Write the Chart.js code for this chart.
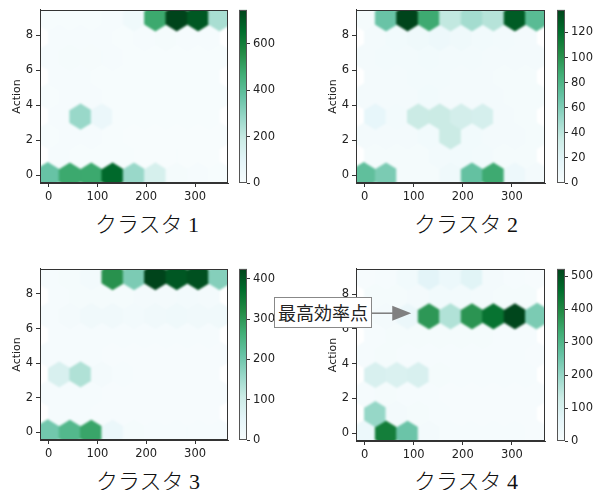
<!DOCTYPE html>
<html>
<head>
<meta charset="utf-8">
<script src="https://cdn.jsdelivr.net/npm/chart.js@4.4.0/dist/chart.umd.min.js"></script>
<style>
  body { margin: 0; background: #fff; }
  #fig { position: relative; width: 601px; height: 490px; overflow: hidden; }
  canvas { position: absolute; }
  .caption {
    position: absolute; width: 200px; text-align: center; line-height: 1;
    font-family: "Liberation Serif", "Noto Sans CJK JP", serif; font-size: 22px; font-weight: 300; color: #111;
  }
  #note {
    position: absolute; left: 274px; top: 297px; width: 96px; height: 29px;
    border: 1px solid #888; background: #fff; z-index: 5;
    font-family: "Noto Sans CJK JP", sans-serif; font-size: 18px; line-height: 29px;
    text-align: center; color: #222;
  }
</style>
</head>
<body>
<div id="fig">
  <canvas id="hex1" width="236" height="200" style="left:0;top:0"></canvas>
  <canvas id="cb1" width="45" height="200" style="left:239px;top:0"></canvas>
  <canvas id="hex2" width="237" height="200" style="left:316px;top:0"></canvas>
  <canvas id="cb2" width="44" height="200" style="left:557px;top:0"></canvas>
  <canvas id="hex3" width="236" height="198" style="left:0;top:259px"></canvas>
  <canvas id="cb3" width="45" height="198" style="left:239px;top:259px"></canvas>
  <canvas id="hex4" width="237" height="199" style="left:316px;top:259px"></canvas>
  <canvas id="cb4" width="44" height="199" style="left:557px;top:259px"></canvas>
  <div class="caption" id="cap1" style="left:47px;top:214px"></div>
  <div class="caption" id="cap2" style="left:366px;top:214px"></div>
  <div class="caption" id="cap3" style="left:48px;top:471px"></div>
  <div class="caption" id="cap4" style="left:366px;top:471px"></div>
  <div id="note"></div>
</div>
<script>
  // hexbin grid (angle 0..350 on x, action 0..9 on y, gridsize 8)
  const xMin = 0, xMax = 350;
  const yMin = 0, yMax = 9;
  const gridSize = 8;

  const xTicks = [0, 100, 200, 300];
  const yTicks = [0, 2, 4, 6, 8];

  // counts per hex row, bottom row first; even rows have 9 cells, odd rows 8
  const cluster1 = [
    [370, 480, 480, 660, 280, 150, 15, 8, 5],
    [10, 5, 5, 3, 2, 2, 2, 2],
    [5, 10, 8, 3, 2, 2, 2, 2, 2],
    [10, 280, 60, 5, 3, 3, 3, 3],
    [5, 10, 8, 4, 3, 3, 3, 3, 3],
    [8, 8, 5, 5, 4, 4, 4, 4],
    [10, 15, 12, 8, 6, 6, 6, 6, 6],
    [8, 10, 8, 6, 10, 15, 10, 8],
    [5, 5, 5, 8, 40, 480, 745, 700, 250]
  ];
  const cluster2 = [
    [72, 62, 3, 3, 8, 70, 88, 10, 4],
    [3, 3, 3, 5, 6, 5, 3, 3],
    [4, 4, 4, 6, 35, 6, 4, 4, 3],
    [15, 5, 35, 35, 30, 28, 4, 3],
    [4, 4, 4, 6, 4, 4, 4, 3, 3],
    [4, 4, 5, 5, 4, 4, 3, 3],
    [4, 5, 5, 6, 5, 5, 4, 4, 4],
    [4, 6, 8, 10, 8, 6, 5, 4],
    [3, 68, 138, 88, 38, 48, 42, 128, 75]
  ];
  const cluster3 = [
    [200, 240, 280, 35, 10, 6, 6, 6, 5],
    [6, 5, 4, 4, 4, 4, 4, 4],
    [5, 6, 5, 4, 4, 4, 4, 4, 4],
    [80, 135, 12, 5, 4, 4, 4, 4],
    [6, 6, 5, 4, 4, 4, 4, 4, 4],
    [6, 6, 5, 5, 5, 5, 5, 5],
    [6, 12, 20, 20, 15, 20, 25, 20, 20],
    [5, 8, 8, 10, 12, 12, 15, 12],
    [6, 8, 15, 310, 190, 425, 400, 410, 180]
  ];
  const cluster4 = [
    [40, 420, 255, 15, 8, 6, 6, 6, 5],
    [200, 15, 10, 6, 5, 5, 5, 5],
    [8, 12, 8, 6, 5, 5, 5, 5, 5],
    [100, 95, 100, 10, 6, 6, 6, 6],
    [8, 10, 8, 6, 6, 6, 6, 6, 5],
    [8, 10, 10, 12, 10, 10, 8, 8],
    [10, 15, 45, 370, 165, 375, 445, 520, 235],
    [10, 12, 15, 20, 18, 15, 12, 10],
    [5, 8, 20, 70, 40, 75, 15, 8, 5]
  ];

  const colorMax = [745, 138, 425, 523];
  const colorTicks1 = [0, 200, 400, 600];
  const colorTicks2 = [0, 20, 40, 60, 80, 100, 120];
  const colorTicks3 = [0, 100, 200, 300, 400];
  const colorTicks4 = [0, 100, 200, 300, 400, 500];

  const captions = ['クラスタ 1', 'クラスタ 2', 'クラスタ 3', 'クラスタ 4'];
  const noteText = '最高効率点';
  const noteTarget = [95, 6.9];

  // BuGn colormap
  const bugn = ['#f7fcfd', '#e5f5f9', '#ccece6', '#99d8c9', '#66c2a4', '#41ae76', '#238b45', '#006d2c', '#00441b'];

  const sx = (xMax - xMin) / gridSize;
  const sy = (yMax - yMin) / Math.floor(gridSize / Math.sqrt(3));
  const hexCorners = [[0.5, -1 / 6], [0.5, 1 / 6], [0, 1 / 3], [-0.5, 1 / 6], [-0.5, -1 / 6], [0, -1 / 3]];

  const tickFont = { family: 'DejaVu Sans', size: 11.5 };
  const axisColor = '#333';
  const labelColor = '#222';

  function hexToRgb(h) {
    return [parseInt(h.slice(1, 3), 16), parseInt(h.slice(3, 5), 16), parseInt(h.slice(5, 7), 16)];
  }

  function bugnColor(f) {
    f = Math.max(0, Math.min(1, f));
    let pos = f * (bugn.length - 1);
    let i = Math.min(bugn.length - 2, Math.floor(pos));
    let t = pos - i;
    let a = hexToRgb(bugn[i]), b = hexToRgb(bugn[i + 1]);
    let c = a.map((v, k) => Math.round(v + (b[k] - v) * t));
    return 'rgb(' + c[0] + ', ' + c[1] + ', ' + c[2] + ')';
  }

  const hexPlugin = {
    id: 'hexcells',
    beforeDatasetsDraw(chart) {
      const { ctx, chartArea: a, scales: { x, y } } = chart;
      const ds = chart.data.datasets[0];
      // draw crisp cells offscreen, then paste them slightly softened
      let off = document.createElement('canvas');
      off.width = chart.width;
      off.height = chart.height;
      let oc = off.getContext('2d');
      oc.fillStyle = '#fff';
      oc.fillRect(0, 0, off.width, off.height);
      ds.data.forEach(p => {
        oc.beginPath();
        hexCorners.forEach(([dx, dy], k) => {
          let px = x.getPixelForValue(p.x + dx * sx);
          let py = y.getPixelForValue(p.y + dy * sy);
          if (k) oc.lineTo(px, py); else oc.moveTo(px, py);
        });
        oc.closePath();
        let c = bugnColor(p.v / ds.vmax);
        oc.fillStyle = c;
        oc.strokeStyle = c;
        oc.lineWidth = 1;
        oc.fill();
        oc.stroke();
      });
      ctx.save();
      ctx.beginPath();
      ctx.rect(a.left, a.top, a.right - a.left, a.bottom - a.top);
      ctx.clip();
      ctx.filter = 'blur(0.9px)';
      ctx.drawImage(off, 0, 0);
      ctx.restore();
    },
    afterDraw(chart) {
      const { ctx, chartArea: a } = chart;
      ctx.save();
      ctx.strokeStyle = axisColor;
      ctx.lineWidth = 1;
      ctx.strokeRect(Math.round(a.left) + 0.5, Math.round(a.top) + 0.5,
        Math.round(a.right - a.left) - 1, Math.round(a.bottom - a.top) - 1);
      ctx.restore();
    }
  };

  const arrowPlugin = {
    id: 'arrow',
    afterDraw(chart) {
      const { ctx, scales: { x, y } } = chart;
      const note = document.getElementById('note');
      const cv = chart.canvas;
      let x0 = note.offsetLeft + note.offsetWidth - cv.offsetLeft;
      let tx = x.getPixelForValue(noteTarget[0]);
      let ty = y.getPixelForValue(noteTarget[1]);
      ctx.save();
      ctx.strokeStyle = '#808080';
      ctx.fillStyle = '#808080';
      ctx.lineWidth = 1.6;
      ctx.beginPath();
      ctx.moveTo(x0, ty);
      ctx.lineTo(tx - 18, ty);
      ctx.stroke();
      ctx.beginPath();
      ctx.moveTo(tx, ty);
      ctx.lineTo(tx - 19, ty - 7.5);
      ctx.lineTo(tx - 19, ty + 7.5);
      ctx.closePath();
      ctx.fill();
      ctx.restore();
    }
  };

  function fixedTicks(values) {
    return scale => { scale.ticks = values.map(v => ({ value: v })); };
  }

  function axisOptions(extra) {
    return Object.assign({
      type: 'linear',
      grid: { display: true, drawOnChartArea: false, tickLength: 4, color: axisColor, lineWidth: 1 },
      border: { display: true, color: axisColor },
      ticks: { font: tickFont, color: labelColor, padding: 3, autoSkip: false, maxRotation: 0 }
    }, extra);
  }

  function hexPanel(id, counts, vmax, extraPlugins) {
    let points = [];
    counts.forEach((row, r) => {
      row.forEach((v, i) => {
        points.push({ x: xMin + (r % 2 ? i + 0.5 : i) * sx, y: yMin + r * sy / 2, v: v });
      });
    });
    let mx = (xMax - xMin) * 0.05, my = (yMax - yMin) * 0.05;
    return new Chart(document.getElementById(id), {
      type: 'scatter',
      data: { datasets: [{ data: points, pointRadius: 0, pointHoverRadius: 0, vmax: vmax }] },
      options: {
        responsive: false,
        animation: false,
        events: [],
        layout: { padding: { left: 8, top: 8, right: 8, bottom: 0 } },
        plugins: { legend: { display: false }, tooltip: { enabled: false } },
        scales: {
          x: axisOptions({
            min: xMin - mx, max: xMax + mx,
            afterBuildTicks: fixedTicks(xTicks),
            afterFit: s => { s.height = 17; }
          }),
          y: axisOptions({
            min: yMin - my, max: yMax + my,
            afterBuildTicks: fixedTicks(yTicks),
            afterFit: s => { s.width = 32; },
            title: { display: true, text: 'Action', font: { family: 'DejaVu Sans', size: 11 }, color: labelColor, padding: { top: 3, bottom: 0 } }
          })
        }
      },
      plugins: [hexPlugin].concat(extraPlugins || [])
    });
  }

  const colorbarPlugin = {
    id: 'colorbar',
    beforeDatasetsDraw(chart) {
      const { ctx, chartArea: a } = chart;
      let g = ctx.createLinearGradient(0, a.bottom, 0, a.top);
      bugn.forEach((c, i) => g.addColorStop(i / (bugn.length - 1), c));
      ctx.save();
      ctx.fillStyle = g;
      ctx.fillRect(a.left, a.top, a.right - a.left, a.bottom - a.top);
      ctx.strokeStyle = '#555';
      ctx.lineWidth = 1;
      ctx.strokeRect(Math.round(a.left) + 0.5, Math.round(a.top) + 0.5,
        Math.round(a.right - a.left) - 1, Math.round(a.bottom - a.top) - 1);
      ctx.restore();
    }
  };

  function colorbar(id, vmax, ticks) {
    let cv = document.getElementById(id);
    return new Chart(cv, {
      type: 'scatter',
      data: { datasets: [] },
      options: {
        responsive: false,
        animation: false,
        events: [],
        layout: { padding: { left: 0, top: 8, right: 0, bottom: 17 } },
        plugins: { legend: { display: false }, tooltip: { enabled: false } },
        scales: {
          x: { type: 'linear', display: false, min: 0, max: 1 },
          y: axisOptions({
            position: 'right',
            min: 0, max: vmax,
            afterBuildTicks: fixedTicks(ticks),
            afterFit: s => { s.width = cv.width - 8; },
            grid: { display: true, drawOnChartArea: false, tickLength: 3, color: axisColor, lineWidth: 1 },
            border: { display: false },
            ticks: { font: tickFont, color: labelColor, padding: 3, autoSkip: false }
          })
        }
      },
      plugins: [colorbarPlugin]
    });
  }

  captions.forEach((t, i) => { document.getElementById('cap' + (i + 1)).textContent = t; });
  document.getElementById('note').textContent = noteText;

  hexPanel('hex1', cluster1, colorMax[0]);
  hexPanel('hex2', cluster2, colorMax[1]);
  hexPanel('hex3', cluster3, colorMax[2]);
  hexPanel('hex4', cluster4, colorMax[3], [arrowPlugin]);

  colorbar('cb1', colorMax[0], colorTicks1);
  colorbar('cb2', colorMax[1], colorTicks2);
  colorbar('cb3', colorMax[2], colorTicks3);
  colorbar('cb4', colorMax[3], colorTicks4);
</script>
</body>
</html>
